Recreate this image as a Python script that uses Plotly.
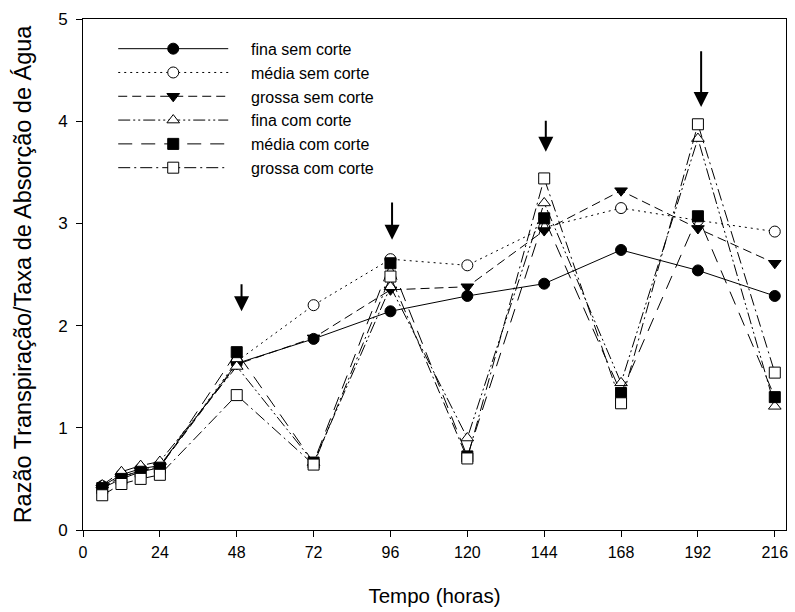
import plotly.graph_objects as go

# Sampling times (hours)
horas = [6, 12, 18, 24, 48, 72, 96, 120, 144, 168, 192, 216]

# Transpiration / water absorption ratio per treatment
fina_sem_corte = [0.43, 0.54, 0.60, 0.63, 1.63, 1.87, 2.14, 2.29, 2.41, 2.74, 2.54, 2.29]
media_sem_corte = [0.42, 0.52, 0.58, 0.62, 1.65, 2.20, 2.65, 2.59, 2.96, 3.15, 3.03, 2.92]
grossa_sem_corte = [0.41, 0.52, 0.58, 0.62, 1.62, 1.88, 2.35, 2.38, 2.93, 3.32, 2.95, 2.61]
fina_com_corte = [0.44, 0.57, 0.63, 0.67, 1.60, 0.66, 2.38, 0.90, 3.20, 1.44, 3.83, 1.21]
media_com_corte = [0.41, 0.50, 0.57, 0.61, 1.74, 0.66, 2.61, 0.72, 3.05, 1.34, 3.07, 1.30]
grossa_com_corte = [0.34, 0.45, 0.50, 0.54, 1.32, 0.64, 2.48, 0.70, 3.44, 1.24, 3.97, 1.54]

# Cutting events marked with arrows: (hour, arrow tip, arrow tail)
corte_horas = [49.5, 96.5, 144.5, 193]
corte_ponta = [2.14, 2.84, 3.70, 4.14]
corte_cauda = [2.42, 3.22, 4.02, 4.70]

x_ticks = [0, 24, 48, 72, 96, 120, 144, 168, 192, 216]

series = [
    ("fina sem corte", fina_sem_corte, "solid", "circle", "black"),
    ("média sem corte", media_sem_corte, "2px,4px", "circle", "white"),
    ("grossa sem corte", grossa_sem_corte, "9px,5px", "triangle-down", "black"),
    ("fina com corte", fina_com_corte, "12px,3px,2px,3px,2px,3px", "triangle-up", "white"),
    ("média com corte", media_com_corte, "14px,9px", "square", "black"),
    ("grossa com corte", grossa_com_corte, "12px,4px,2px,4px", "square", "white"),
]

fig = go.Figure()
for nome, valores, dash, simbolo, preenchimento in series:
    fig.add_trace(go.Scatter(
        x=horas, y=valores, name="\u00a0\u00a0\u00a0\u00a0" + nome,
        mode="lines+markers",
        line=dict(color="black", width=1, dash=dash),
        marker=dict(symbol=simbolo, size=11, color=preenchimento,
                    line=dict(color="black", width=1)),
    ))

for xh, ponta, cauda in zip(corte_horas, corte_ponta, corte_cauda):
    fig.add_annotation(
        x=xh, y=ponta, ax=xh, ay=cauda, xref="x", yref="y",
        axref="x", ayref="y", text="", showarrow=True,
        arrowhead=2, arrowsize=1.5, arrowwidth=2, arrowcolor="black",
    )

fonte = "Liberation Sans, Arial, sans-serif"
fig.update_layout(
    width=795, height=612,
    margin=dict(l=83, r=7, t=19, b=82),
    paper_bgcolor="white", plot_bgcolor="white",
    font=dict(family=fonte, color="black"),
    showlegend=True,
    legend=dict(x=0.043, y=0.975, xanchor="left", yanchor="top",
                bgcolor="rgba(0,0,0,0)", font=dict(size=16, family=fonte),
                itemwidth=110, tracegroupgap=0),
    xaxis=dict(
        range=[0, 219.5], tickvals=x_ticks, ticks="outside", ticklen=6,
        tickcolor="black", showline=True, linecolor="black", linewidth=1,
        mirror=True, showgrid=False, zeroline=False,
        tickfont=dict(size=16), ticklabelstandoff=2,
        title=dict(text="Tempo (horas)", font=dict(size=20.5), standoff=28),
    ),
    yaxis=dict(
        range=[0, 5], dtick=1, ticks="outside", ticklen=6,
        tickcolor="black", showline=True, linecolor="black", linewidth=1,
        mirror=True, showgrid=False, zeroline=False,
        tickfont=dict(size=17), ticklabelstandoff=5,
        title=dict(text="Razão Transpiração/Taxa de Absorção de Água",
                   font=dict(size=23.5), standoff=19),
    ),
)

fig.write_html("out.html")
